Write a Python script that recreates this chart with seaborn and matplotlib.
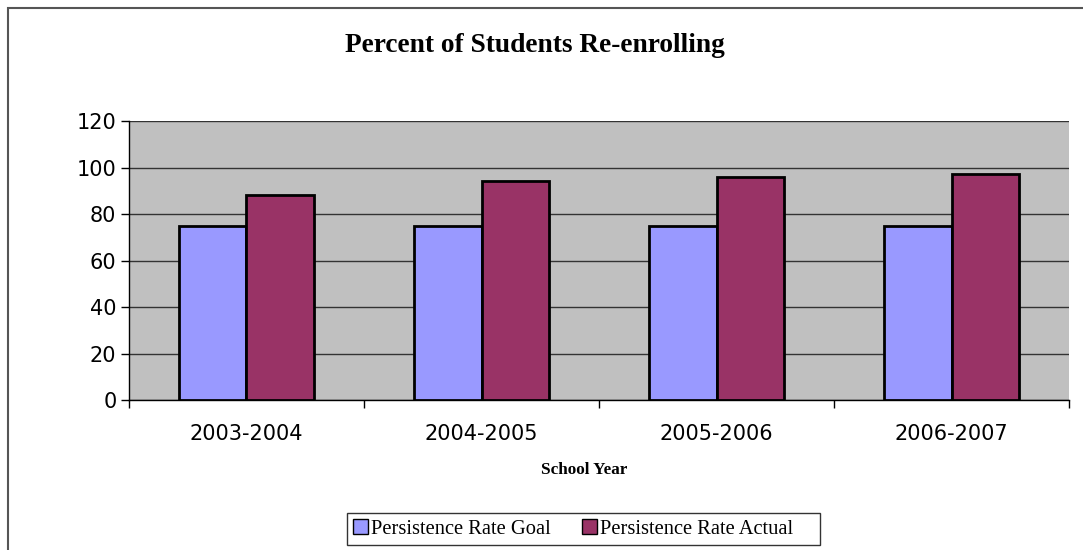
import pandas as pd
import matplotlib.pyplot as plt
import seaborn as sns
from matplotlib.patches import Rectangle

# data
years = ['2003-2004', '2004-2005', '2005-2006', '2006-2007']
goal = [75, 75, 75, 75]
actual = [88, 94, 96, 97]
series = ['Persistence Rate Goal', 'Persistence Rate Actual']
colors = ['#9999FF', '#993366']

df = pd.DataFrame({
    'year': years * 2,
    'series': [series[0]] * 4 + [series[1]] * 4,
    'value': goal + actual,
})

sns.set_style('white')
plt.rcParams['font.family'] = ['DejaVu Sans']
plt.rcParams['text.color'] = 'black'
plt.rcParams['xtick.color'] = 'black'
plt.rcParams['ytick.color'] = 'black'
plt.rcParams['axes.labelcolor'] = 'black'

fig = plt.figure(figsize=(10.83, 5.5), dpi=100)
ax = fig.add_axes([0.1191, 0.2727, 0.868, 0.5073])

sns.barplot(data=df, x='year', y='value', hue='series', order=years,
            hue_order=series, palette=colors, width=0.575,
            edgecolor='black', linewidth=2, saturation=1, ax=ax, zorder=3)

ax.set_facecolor('#C0C0C0')
ax.set_ylim(0, 120)
ax.set_xlim(-0.5, 3.5)
ax.set_yticks(range(0, 121, 20))
ax.grid(axis='y', color='#333333', linewidth=1, zorder=1)
ax.set_axisbelow(True)
for side in ['top', 'right']:
    ax.spines[side].set_visible(False)
for side in ['left', 'bottom']:
    ax.spines[side].set_color('black')
    ax.spines[side].set_linewidth(1)

ax.tick_params(axis='y', which='major', length=6, width=1, color='black',
               labelsize=15, pad=3, left=True)
ax.tick_params(axis='x', which='major', length=0, labelsize=15, pad=17)
ax.set_xticks([-0.5, 0.5, 1.5, 2.5, 3.5], minor=True)
ax.tick_params(axis='x', which='minor', length=6, width=1, color='black', bottom=True)

ax.set_ylabel('')
ax.set_xlabel('')
fig.text(584 / 1083, 1 - 470 / 550, 'School Year', ha='center', va='center',
         family='Liberation Serif', fontweight='bold', fontsize=12.3)
fig.text(534.5 / 1083, 1 - 45 / 550, 'Percent of Students Re-enrolling', ha='center',
         va='center', family='Liberation Serif', fontweight='bold', fontsize=19.7)

ax.legend_.remove()
handles = [Rectangle((0, 0), 1, 1, facecolor=c, edgecolor='black', linewidth=1) for c in colors]
# trailing spaces give the extra room Excel leaves at the right of the legend box
labels = [series[0], series[1] + '    ']
leg = fig.legend(handles, labels, loc='center', ncol=2,
                 frameon=True, fancybox=False, prop={'family': 'Liberation Serif', 'size': 14.8},
                 handlelength=0.75, handleheight=0.75, handletextpad=0.15, columnspacing=1.5,
                 borderpad=0.3, borderaxespad=0, edgecolor='black')
leg.set_bbox_to_anchor((583.5 / 1083, 1 - 529 / 550), transform=fig.transFigure)
leg.get_frame().set_linewidth(1)

# outer chart border, cut off at right and bottom like the original
fig.patches.append(Rectangle((8 / 1083, -0.1), 1.2, 1 - 8 / 550 + 0.1,
                             transform=fig.transFigure, fill=False,
                             edgecolor='#555555', linewidth=1.5))

fig.savefig('out.png', dpi=100)
